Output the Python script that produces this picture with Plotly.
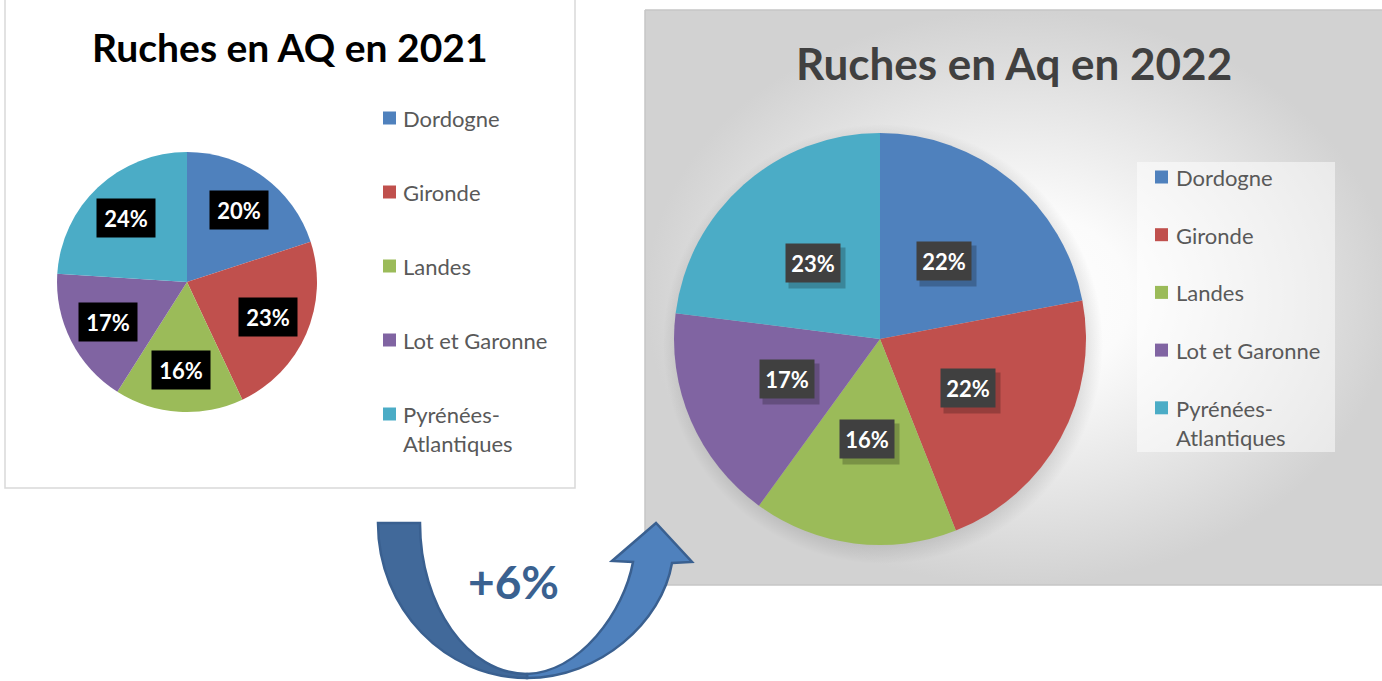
import numpy as np
import plotly.graph_objects as go

# ---------------- data ----------------
categories = ["Dordogne", "Gironde", "Landes", "Lot et Garonne", "Pyrénées-Atlantiques"]
legend_labels = ["Dordogne", "Gironde", "Landes", "Lot et Garonne", "Pyrénées-<br>Atlantiques"]
share_2021 = [20, 23, 16, 17, 24]
share_2022 = [22, 22, 16, 17, 23]
slice_colors = ["#4F81BD", "#C0504D", "#9BBB59", "#8064A2", "#4BACC6"]
title_2021 = "Ruches en AQ en 2021"
title_2022 = "Ruches en Aq en 2022"
growth_label = "+6%"

# ---------------- layout constants ----------------
W, H = 1382, 681
FONT = "Lato"

charts = [
    dict(values=share_2021, title=title_2021, cx=187, cy=282, r=130, k=0.68,
         title_xy=(290, 47), title_color="#000000", title_size=39,
         box_bg="#000000", box_w=58, box_h=38, shadow=False,
         leg_sq_x=383, leg_txt_x=401, leg_y0=117, leg_dy=74, leg_line=29),
    dict(values=share_2022, title=title_2022, cx=880, cy=339, r=206, k=0.49,
         title_xy=(1014, 63), title_color="#404040", title_size=44,
         box_bg="#404040", box_w=54, box_h=38, shadow=True,
         leg_sq_x=1155, leg_txt_x=1174, leg_y0=176, leg_dy=57.7, leg_line=28),
]

fig = go.Figure()

# right panel background with radial gradient
fig.add_trace(go.Scatter(
    x=[645, 1392, 1392, 645, 645], y=[10, 10, 585, 585, 10],
    mode="lines", fill="toself",
    fillgradient=dict(type="radial",
                      colorscale=[[0, "#ffffff"], [0.3, "#fbfbfb"], [0.7, "#e4e4e4"],
                                  [1, "#d2d2d2"]]),
    line=dict(color="#c6c6c6", width=1.5),
    hoverinfo="skip", showlegend=False))

# soft shadow behind the 2022 pie
t = np.linspace(0, 2 * np.pi, 241)
c2 = charts[1]
fig.add_trace(go.Scatter(
    x=c2["cx"] + 3 + (c2["r"] + 14) * np.cos(t),
    y=c2["cy"] + 5 + (c2["r"] + 14) * np.sin(t),
    mode="lines", fill="toself", line=dict(width=0, color="rgba(0,0,0,0)"),
    fillgradient=dict(type="radial",
                      colorscale=[[0, "rgba(0,0,0,0.16)"], [0.9, "rgba(0,0,0,0.12)"],
                                  [1, "rgba(0,0,0,0)"]]),
    hoverinfo="skip", showlegend=False))

shapes = [
    # left panel frame
    dict(type="rect", xref="x", yref="y", x0=5, x1=575, y0=-3, y1=488,
         fillcolor="#ffffff", line=dict(color="#d9d9d9", width=1.5), layer="below"),
    # right legend background
    dict(type="rect", xref="x", yref="y", x0=1137, x1=1335, y0=162, y1=452,
         fillcolor="rgba(255,255,255,0.5)", line=dict(width=0), layer="above"),
]
annotations = []

for c in charts:
    vals = c["values"]
    total = float(sum(vals))
    fig.add_trace(go.Pie(
        labels=categories, values=vals, sort=False, direction="clockwise", rotation=0,
        marker=dict(colors=slice_colors, line=dict(width=0)),
        textinfo="none", hoverinfo="label+percent", showlegend=False,
        domain=dict(x=[(c["cx"] - c["r"]) / W, (c["cx"] + c["r"]) / W],
                    y=[1 - (c["cy"] + c["r"]) / H, 1 - (c["cy"] - c["r"]) / H])))

    # title
    annotations.append(dict(
        xref="x", yref="y", x=c["title_xy"][0], y=c["title_xy"][1],
        text=c["title"], showarrow=False, xanchor="center", yanchor="middle",
        font=dict(family=FONT, size=c["title_size"], color=c["title_color"], weight="bold")))

    # data labels in boxes
    cum = 0.0
    for v in vals:
        ang = 2 * np.pi * (cum + v / 2) / total
        cum += v
        px = c["cx"] + c["k"] * c["r"] * np.sin(ang)
        py = c["cy"] - c["k"] * c["r"] * np.cos(ang)
        label = f"{round(v / total * 100)}%"
        if c["shadow"]:
            annotations.append(dict(
                xref="x", yref="y", x=px + 4, y=py + 5, text=" ", showarrow=False,
                width=c["box_w"] + 2, height=c["box_h"] + 2, borderpad=0,
                bgcolor="rgba(0,0,0,0.22)"))
        annotations.append(dict(
            xref="x", yref="y", x=px, y=py, text=label, showarrow=False,
            width=c["box_w"], height=c["box_h"], borderpad=0,
            bgcolor=c["box_bg"], align="center", valign="middle",
            font=dict(family=FONT, size=22, color="#ffffff", weight="bold")))

    # legend
    for i, (lab, col) in enumerate(zip(legend_labels, slice_colors)):
        yy = c["leg_y0"] + i * c["leg_dy"]
        shapes.append(dict(type="rect", xref="x", yref="y",
                           x0=c["leg_sq_x"], x1=c["leg_sq_x"] + 13,
                           y0=yy - 6.5 + 1, y1=yy + 6.5 + 1,
                           fillcolor=col, line=dict(width=0), layer="above"))
        annotations.append(dict(
            xref="x", yref="y", x=c["leg_txt_x"], y=yy - c["leg_line"] / 2,
            text=lab, showarrow=False, xanchor="left", yanchor="top", align="left",
            font=dict(family=FONT, size=22, color="#595959")))

# curved "+6%" arrow between the two charts
arrow_line = dict(color="#3A6090", width=2.5)
shapes.append(dict(
    type="path", xref="x", yref="y", layer="above",
    path="M 527,678 C 600,678 662,622 672,563 L 692,562 L 656,523 L 612,561 L 633,562 "
         "C 624,612 580,672 527,674 Z",
    fillcolor="#4F81BD", line=arrow_line))
shapes.append(dict(
    type="path", xref="x", yref="y", layer="above",
    path="M 378,523 L 420,523 C 420,606 468,674 527,674 L 527,678 "
         "C 445,678 378,609 378,523 Z",
    fillcolor="#41699A", line=arrow_line))
annotations.append(dict(
    xref="x", yref="y", x=513, y=581, text=growth_label, showarrow=False,
    xanchor="center", yanchor="middle",
    font=dict(family=FONT, size=46, color="#3A6190", weight="bold")))

fig.update_layout(
    width=W, height=H, autosize=False,
    margin=dict(l=0, r=0, t=0, b=0),
    paper_bgcolor="#ffffff", plot_bgcolor="rgba(0,0,0,0)",
    xaxis=dict(range=[0, W], visible=False, fixedrange=True, domain=[0, 1]),
    yaxis=dict(range=[H, 0], visible=False, fixedrange=True, domain=[0, 1]),
    shapes=shapes, annotations=annotations, showlegend=False,
)

fig.write_html("out.html", config={"displayModeBar": False},
               post_script="document.body.style.margin='0';document.body.style.overflow='hidden';")
